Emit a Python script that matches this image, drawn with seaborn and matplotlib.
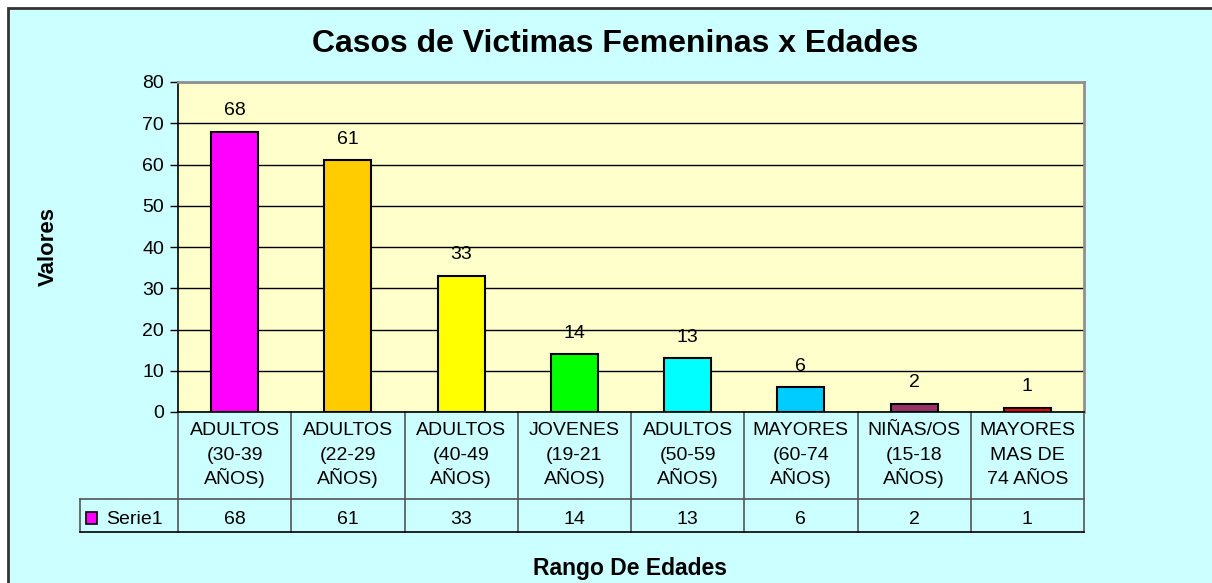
import numpy as np
import pandas as pd
import seaborn as sns
import matplotlib.pyplot as plt
from matplotlib.patches import Rectangle

# datos del grafico
categorias = ['ADULTOS\n(30-39\nAÑOS)', 'ADULTOS\n(22-29\nAÑOS)', 'ADULTOS\n(40-49\nAÑOS)',
              'JOVENES\n(19-21\nAÑOS)', 'ADULTOS\n(50-59\nAÑOS)', 'MAYORES\n(60-74\nAÑOS)',
              'NIÑAS/OS\n(15-18\nAÑOS)', 'MAYORES\nMAS DE\n74 AÑOS']
valores = [68, 61, 33, 14, 13, 6, 2, 1]
colores = ['#FF00FF', '#FFCC00', '#FFFF00', '#00FF00', '#00FFFF', '#00CCFF', '#993366', '#FF0000']
serie = 'Serie1'
yticks = [0, 10, 20, 30, 40, 50, 60, 70, 80]

plt.rcParams['font.family'] = ['Liberation Sans', 'DejaVu Sans']

df = pd.DataFrame({'cat': categorias, 'val': valores})

W, H = 1212, 583
fig = plt.figure(figsize=(W / 100, H / 100), dpi=100, facecolor='white')

# marco exterior
fig.patches.append(Rectangle((8 / W, -0.1), 1.2, 1 - 8 / H + 0.1, transform=fig.transFigure,
                             facecolor='#CCFFFF', edgecolor='#333333', linewidth=2, zorder=-5))

ax = fig.add_axes([178 / W, 1 - 412 / H, (1084 - 178) / W, (412 - 82) / H])
ax.set_zorder(2)
ax.set_facecolor('#FFFFCC')

sns.barplot(data=df, x='cat', y='val', hue='cat', palette=colores, legend=False,
            width=0.415, edgecolor='black', linewidth=1.5, ax=ax, zorder=3, saturation=1)

fs = 14
for c in ax.containers:
    ax.bar_label(c, padding=9, fontsize=fs)

ax.set_ylim(0, 80)
ax.set_xlim(-0.5, len(categorias) - 0.5)
ax.set_yticks(yticks)
ax.tick_params(axis='y', labelsize=fs, length=6, width=1, color='black', pad=4)
ax.set_xticks([])
ax.set_xlabel('')
ax.set_ylabel('')
ax.yaxis.grid(True, color='black', linewidth=1)
ax.set_axisbelow(True)
for s in ['top', 'right']:
    ax.spines[s].set_color('#909090')
    ax.spines[s].set_linewidth(2)
ax.spines['left'].set_color('black')
ax.spines['bottom'].set_color('black')
ax.spines['left'].set_linewidth(1.2)
ax.spines['bottom'].set_linewidth(1.2)

# tabla de datos
tr = ax.get_xaxis_transform()
y_r1 = -87 / 330
y_r2 = -120 / 330
x_leg = -0.5 - 98 / 113.25
n = len(categorias)
lc = '#555555'
for i in range(n + 1):
    ax.plot([i - 0.5, i - 0.5], [0, y_r2], transform=tr, color=lc, lw=1.2, clip_on=False)
ax.plot([x_leg, x_leg], [y_r1, y_r2], transform=tr, color=lc, lw=1.2, clip_on=False)
ax.plot([x_leg, n - 0.5], [y_r1, y_r1], transform=tr, color=lc, lw=1.2, clip_on=False)
ax.plot([x_leg, n - 0.5], [y_r2, y_r2], transform=tr, color='black', lw=1.2, clip_on=False)

for i, (c, v) in enumerate(zip(categorias, valores)):
    for k, linea in enumerate(c.split('\n')):
        ax.text(i, -(23 + 24.5 * k) / 330, linea, transform=tr, ha='center', va='baseline',
                fontsize=fs, clip_on=False)
    ax.text(i, -112 / 330, str(v), transform=tr, ha='center', va='baseline', fontsize=fs,
            clip_on=False)

ax.add_patch(Rectangle((x_leg + 6 / 113.25, -112 / 330), 11 / 113.25, 12 / 330, transform=tr,
                       facecolor=colores[0], edgecolor='black', lw=1.2, clip_on=False))
ax.text(x_leg + 26 / 113.25, -112 / 330, serie, transform=tr, ha='left', va='baseline',
        fontsize=fs, clip_on=False)

fig.text(615 / W, 1 - 44 / H, 'Casos de Victimas Femeninas x Edades', ha='center', va='center',
         fontsize=23, fontweight='bold')
fig.text(48 / W, 1 - 247 / H, 'Valores', ha='center', va='center', rotation=90,
         fontsize=16, fontweight='bold')
fig.text(630 / W, 1 - 568 / H, 'Rango De Edades', ha='center', va='center',
         fontsize=16.5, fontweight='bold')

plt.savefig('out.png', dpi=100, facecolor=fig.get_facecolor())
